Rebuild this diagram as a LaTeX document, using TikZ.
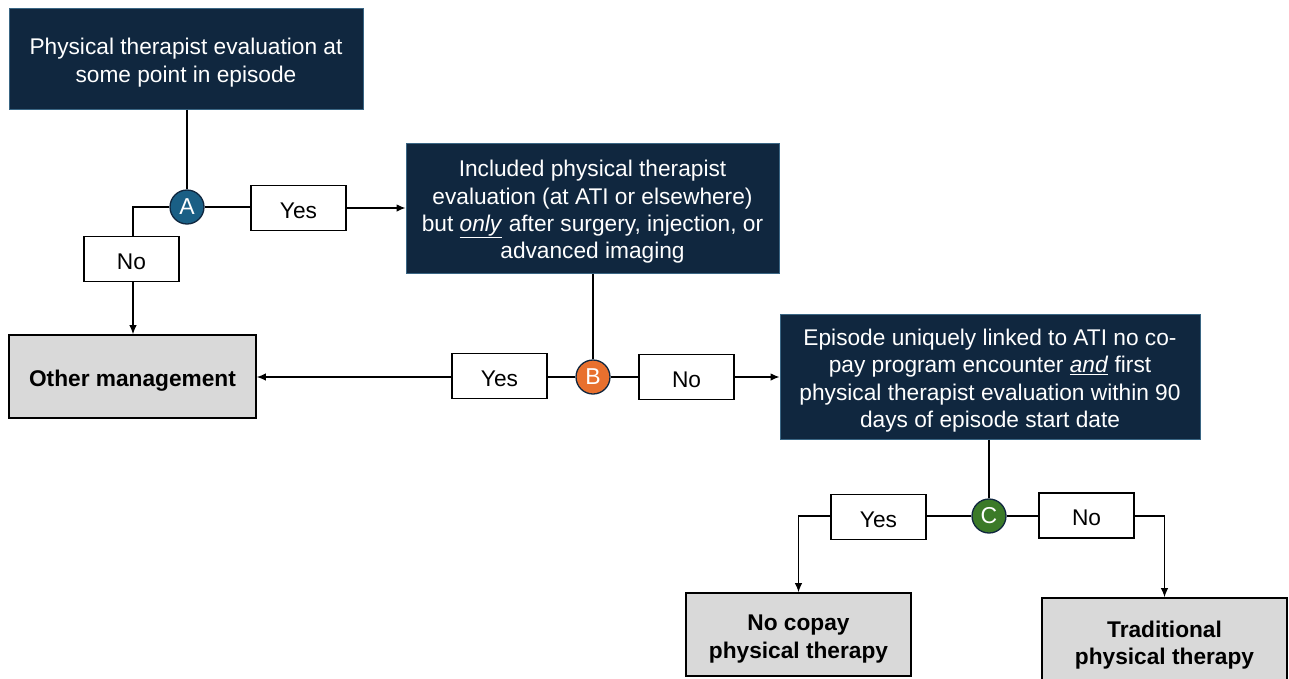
\documentclass[tikz,border=0pt]{standalone}
\usepackage{fontspec}
\setmainfont{Liberation Sans}
\usetikzlibrary{arrows.meta}
\definecolor{navy}{HTML}{10273F}
\definecolor{navyedge}{HTML}{3A6684}
\definecolor{cA}{HTML}{1A5F85}
\definecolor{cB}{HTML}{E8702E}
\definecolor{cC}{HTML}{3B7A28}
\definecolor{grayfill}{HTML}{D9D9D9}
\newcommand{\tstrut}{\rule{0pt}{24.5pt}}
\newcommand{\lstrut}{\rule{0pt}{20.5pt}}
\tikzset{
  darkbox/.style={draw=navyedge, line width=1pt, fill=navy, text=white, align=center, inner sep=2pt,
    font=\fontsize{22.7}{27.3}\selectfont},
  graybox/.style={draw=black, line width=1.8pt, fill=grayfill, align=center,
    font=\fontsize{22.7}{27.5}\selectfont\bfseries},
  lblbox/.style={draw=black, line width=1.4pt, fill=white, minimum width=95pt, minimum height=45pt,
    font=\fontsize{22.7}{26}\selectfont, inner sep=0pt},
  decision/.style={circle, draw=navy, line width=1.3pt, minimum size=34pt, inner sep=0pt, text=white,
    font=\fontsize{23}{26}\selectfont},
  conn/.style={draw=black, line width=1.1pt},
  arr/.style={conn, -{Latex[length=9pt,width=7.5pt]}}
}
\begin{document}
\begin{tikzpicture}[x=1pt,y=-1pt]
\useasboundingbox (0,0) rectangle (1289,678);
% main boxes
\node[darkbox, minimum width=354pt, minimum height=101pt] (b1) at (186,58.5)
  {\tstrut Physical therapist evaluation at\\some point in episode};
\node[darkbox, minimum width=373pt, minimum height=130pt] (b2) at (592.5,208)
  {\tstrut Included physical therapist\\evaluation (at ATI or elsewhere)\\but \underline{\textit{only}} after surgery, injection, or\\advanced imaging};
\node[darkbox, minimum width=420pt, minimum height=125pt] (b3) at (990,376.5)
  {\tstrut Episode uniquely linked to ATI no co-\\pay program encounter \underline{\textit{and}} first\\physical therapist evaluation within 90\\days of episode start date};
\node[graybox, minimum width=247pt, minimum height=83pt] (other) at (132.5,376.5) {\tstrut Other management};
\node[graybox, minimum width=225pt, minimum height=83pt] (nocopay) at (798.5,634.5) {\tstrut No copay\\physical therapy};
\node[graybox, minimum width=245pt, minimum height=86pt] (trad) at (1164.5,641) {\tstrut Traditional\\physical therapy};
% decisions
\node[decision, fill=cA] (A) at (187,207) {A};
\node[decision, fill=cB] (B) at (593,377) {B};
\node[decision, fill=cC] (C) at (989,516) {C};
% labels
\node[lblbox] (noA) at (131.5,259) {\lstrut No};
\node[lblbox] (yesA) at (298.5,208) {\lstrut Yes};
\node[lblbox] (yesB) at (499.5,376) {\lstrut Yes};
\node[lblbox] (noB) at (686.5,377) {\lstrut No};
\node[lblbox] (yesC) at (878.5,517) {\lstrut Yes};
\node[lblbox] (noC) at (1086.5,515.5) {\lstrut No};
% connectors
\draw[conn] (A |- b1.south) -- (A.north);
\draw[conn] (A.west) -| (noA.north -| 133,0);
\draw[arr] (noA.south -| 133,0) -- (other.north -| 133,0);
\draw[conn] (A.east) -- (yesA.west |- A.east);
\draw[arr] (yesA.east) -- (yesA.east -| b2.west);
\draw[conn] (B |- b2.south) -- (B.north);
\draw[conn] (B.west) -- (B.west -| yesB.east);
\draw[arr] (yesB.west |- B.west) -- (B.west -| other.east);
\draw[conn] (B.east) -- (B.east -| noB.west);
\draw[arr] (noB.east |- B.east) -- (B.east -| b3.west);
\draw[conn] (C |- b3.south) -- (C.north);
\draw[conn] (C.west) -- (C.west -| yesC.east);
\draw[arr] (yesC.west |- C.west) -| (nocopay.north);
\draw[conn] (C.east) -- (C.east -| noC.west);
\draw[arr] (noC.east |- C.east) -| (trad.north);
\end{tikzpicture}
\end{document}
